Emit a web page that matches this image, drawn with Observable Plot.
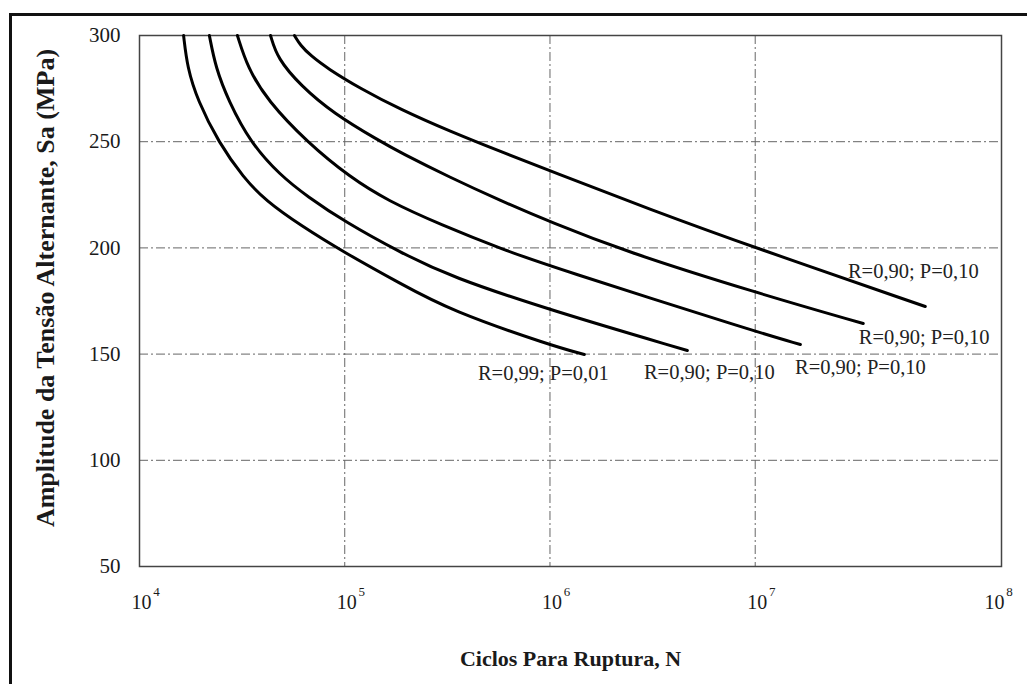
<!DOCTYPE html>
<html>
<head>
<meta charset="utf-8">
<script src="https://cdn.jsdelivr.net/npm/d3@7"></script>
<script src="https://cdn.jsdelivr.net/npm/@observablehq/plot@0.6"></script>
<style>
  html, body { margin: 0; padding: 0; background: #fff; }
  #wrap { position: relative; width: 1027px; height: 684px; overflow: hidden; }
  #border { position: absolute; left: 9px; top: 13px; width: 1100px; height: 800px;
            border-left: 3px solid #111; border-top: 3px solid #111; box-sizing: border-box; }
  #chart { position: absolute; left: 0; top: 0; }
</style>
</head>
<body>
<div id="wrap"><div id="border"></div><div id="chart"></div></div>
<script>
// Fatigue life curves (S-N-P): cycles to failure N vs alternating stress amplitude Sa
const curveNames = ["R=0,99; P=0,01", "R=0,90; P=0,10", "R=0,90; P=0,10", "R=0,90; P=0,10", "R=0,90; P=0,10"];

// cycles (N) and stress amplitude (MPa) along each curve
const curve1N = [16400, 17100, 19200, 24300, 32100, 41100, 60900, 99700, 186700, 327000, 1016000, 1470000];
const curve1S = [300, 284.9, 269.4, 249.6, 233.1, 222.3, 210.6, 197.8, 183.2, 170.5, 154.0, 149.8];
const curve2N = [21900, 23500, 27100, 34700, 48600, 65800, 99700, 186700, 327000, 1016000, 4670000];
const curve2S = [300, 284.9, 269.4, 249.6, 234.1, 224.2, 212.4, 197.8, 186.5, 170.5, 151.7];
const curve3N = [30000, 33600, 42000, 65800, 106600, 161400, 292500, 606300, 1016000, 10010000, 16600000];
const curve3S = [300, 284.9, 269.4, 249.6, 233.1, 222.3, 211.0, 198.8, 191.2, 160.6, 154.5];
const curve4N = [43500, 47000, 60900, 88100, 149300, 186700, 327000, 573300, 1016000, 2253000, 10010000, 33600000];
const curve4S = [300, 289.2, 276.5, 263.3, 250.1, 244.9, 233.1, 222.3, 212.0, 198.8, 179.0, 164.4];
const curve5N = [56900, 60900, 68100, 82400, 119300, 186700, 327000, 573300, 1016000, 3083000, 9570000, 67400000];
const curve5S = [300, 295.3, 290.6, 284.5, 275.0, 265.2, 254.8, 245.4, 236.0, 218.1, 200.7, 172.4];

// axis ticks and grid
const yTicks = [50, 100, 150, 200, 250, 300];
const xTicks = [1e4, 1e5, 1e6, 1e7, 1e8];
const xGrid = [1e5, 1e6, 1e7];
const yGrid = [100, 150, 200, 250];

const allN = [curve1N, curve2N, curve3N, curve4N, curve5N];
const allS = [curve1S, curve2S, curve3S, curve4S, curve5S];

const rows = allN.flatMap((ns, k) => ns.map((n, i) => ({curve: k, N: n, S: allS[k][i]})));
const ends = allN.map((ns, k) => ({curve: k, N: ns[ns.length - 1], S: allS[k][ns.length - 1], name: curveNames[k]}));

// label placement relative to each curve's end point
const labelOffsets = [[-41, 19], [22, 22], [60, 23], [61, 14], [-12, -35]];

const exponent = d => String(Math.round(Math.log10(d)));

const serif = "'Liberation Serif', 'DejaVu Serif', serif";
const ink = "#1a1a1a";

const plot = Plot.plot({
  width: 1027,
  height: 684,
  marginLeft: 139,
  marginRight: 26,
  marginTop: 35,
  marginBottom: 118,
  style: {fontFamily: serif, fontSize: "20px", color: ink, background: "transparent"},
  x: {type: "log", domain: [1e4, 1.585e8]},
  y: {domain: [50, 300]},
  marks: [
    Plot.ruleX(xGrid, {stroke: "#666", strokeWidth: 1, strokeDasharray: "9,3,2,3"}),
    Plot.ruleY(yGrid, {stroke: "#666", strokeWidth: 1, strokeDasharray: "9,3,2,3"}),
    Plot.frame({stroke: "#444", strokeWidth: 1.5}),
    Plot.axisY({ticks: yTicks, tickSize: 0, tickPadding: 19, fontSize: 21, label: null}),
    // powers of ten: base "10" and raised exponent
    Plot.axisX(xTicks.slice(0, 4), {tickSize: 0, tickPadding: 28, fontSize: 20, dx: 2, tickFormat: () => "10", label: null}),
    Plot.axisX(xTicks.slice(0, 4), {tickSize: 0, tickPadding: 20, fontSize: 13, dx: 17, tickFormat: exponent, label: null}),
    Plot.axisX(xTicks.slice(4), {tickSize: 0, tickPadding: 28, fontSize: 20, dx: 34, tickFormat: () => "10", label: null}),
    Plot.axisX(xTicks.slice(4), {tickSize: 0, tickPadding: 20, fontSize: 13, dx: 49, tickFormat: exponent, label: null}),
    Plot.line(rows, {x: "N", y: "S", z: "curve", stroke: "#000", strokeWidth: 3, curve: "basis"}),
    ...ends.map((e, k) => Plot.text([e], {
      x: "N", y: "S", text: "name", fontSize: 20.5, fill: "#222",
      dx: labelOffsets[k][0], dy: labelOffsets[k][1]
    })),
    Plot.text(["Ciclos Para Ruptura, N"], {frameAnchor: "bottom", dy: 99, fontSize: 22, fontWeight: "bold", fill: ink}),
    Plot.text(["Amplitude da Tensão Alternante, Sa (MPa)"], {frameAnchor: "left", textAnchor: "middle", dx: -94, dy: -13, rotate: -90, fontSize: 26, fontWeight: "bold", fill: ink})
  ]
});
document.getElementById("chart").appendChild(plot);
</script>
</body>
</html>
